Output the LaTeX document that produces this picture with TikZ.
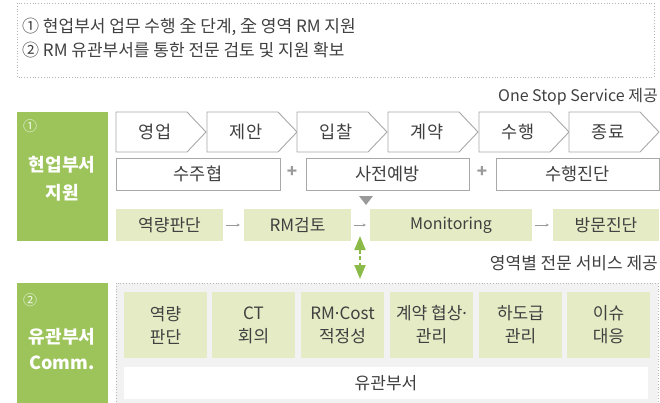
\documentclass[tikz,border=0pt]{standalone}
\usepackage{fontspec}
\setmainfont{Noto Sans CJK KR}
\newfontfamily\latinf{Noto Sans}
\usetikzlibrary{arrows.meta}
\definecolor{grn}{HTML}{9CC45B}
\definecolor{lgrn}{HTML}{E5ECC5}
\definecolor{bord}{HTML}{A8A8A8}
\definecolor{txtc}{HTML}{404040}
\definecolor{bgc}{HTML}{F2F2F2}
\definecolor{dotc}{HTML}{B5B5B5}
\definecolor{plusc}{HTML}{9A9A9A}
\definecolor{garr}{HTML}{8CBA48}
\newcommand{\mdot}{{\latinf ·}}
\begin{document}
\begin{tikzpicture}[x=1pt,y=-1pt,
  lbl/.style={text=txtc, inner sep=0pt, font=\fontsize{17.5}{20}\selectfont},
  small/.style={text=txtc, inner sep=0pt, font=\fontsize{17}{20}\selectfont},
  lat/.style={text=txtc, inner sep=0pt, font=\fontsize{16}{19}\selectfont},
  chev/.style={draw=bord, fill=white, line width=0.9pt},
  wbox/.style={draw=bord, fill=white, line width=0.9pt, minimum height=32pt, inner sep=0pt},
  gbox/.style={fill=lgrn, minimum height=32pt, inner sep=0pt},
  sidebox/.style={fill=grn, inner sep=0pt},
  sidetxt/.style={text=white, inner sep=0pt, font=\fontsize{18}{21}\selectfont\bfseries},
  circnum/.style={text=white!85!grn, inner sep=0pt, font=\fontsize{14}{16}\selectfont},
  plus/.style={text=plusc, inner sep=0pt, font=\fontsize{17}{19}\selectfont\bfseries},
  smallarr/.style={draw=plusc, line width=0.6pt, -{Stealth[length=3pt,width=3pt]}, shorten <=3pt, shorten >=4pt},
  garrow/.style={draw=garr, line width=2pt, dash pattern=on 4pt off 2.5pt,
     {Triangle[length=14pt,width=11pt]}-{Triangle[length=14pt,width=11pt]}},
  inner/.style={fill=lgrn, minimum width=83pt, minimum height=66pt, inner sep=0pt, align=center,
     text=txtc, font=\fontsize{17}{23}\selectfont}
]
\useasboundingbox (0,0) rectangle (660,402);
\clip (0,0) rectangle (660,402);

% top note box
\draw[dotc, line width=0.8pt, dotted] (17,3) rectangle (654,77);
\node[lbl, anchor=west, font=\fontsize{17}{20}\selectfont] (n1) at (22,27) {① 현업부서 업무 수행 全 단계, 全 영역 RM 지원};
\node[lbl, anchor=west, font=\fontsize{17}{20}\selectfont] (n2) at (22,50) {② RM 유관부서를 통한 전문 검토 및 지원 확보};

% heading right
\node[lat, anchor=east] (oss) at (658,97) {One Stop Service 제공};

% side box 1
\node[sidebox, minimum width=91pt, minimum height=129pt] (s1) at (62.5,176.5) {};
\node[circnum] (s1n) at (30,126) {①};
\node[sidetxt] (s1a) at (62,165) {현업부서};
\node[sidetxt] (s1b) at (62,193) {지원};

% chevrons
\foreach \x/\t/\n in {116/영업/c1, 207/제안/c2, 297/입찰/c3, 388/계약/c4, 479/수행/c5, 569/종료/c6} {
  \draw[chev] (\x,112) -- ++(71,0) -- ++(19,20) -- ++(-19,20) -- ++(-71,0) -- cycle;
  \node[lbl] (\n) at (\x+39,132) {\t};
}

% row 2
\node[wbox, minimum width=164pt] (w1) at (198,174) {};
\node[lbl] at (w1) {수주협};
\node[plus] (p1) at (292,172) {+};
\node[wbox, minimum width=163pt] (w2) at (387.5,174) {};
\node[lbl] at (w2) {사전예방};
\node[plus] (p2) at (482,172) {+};
\node[wbox, minimum width=163pt] (w3) at (577.5,174) {};
\node[lbl] at (w3) {수행진단};

% marker triangle
\fill[plusc] (359,196) -- (373,196) -- (366,205) -- cycle;

% row 3
\node[gbox, minimum width=107pt] (r1) at (169.5,225) {};
\node[small] at (r1) {역량판단};
\node[gbox, minimum width=107pt] (r2) at (297.5,225) {};
\node[small] at (r2) {RM검토};
\node[gbox, minimum width=162pt] (r3) at (451,225) {};
\node[lat] at (r3) {Monitoring};
\node[gbox, minimum width=106pt] (r4) at (606,225) {};
\node[small] at (r4) {방문진단};
\draw[smallarr] (r1) -- (r2);
\draw[smallarr] (r2) -- (r3);
\draw[smallarr] (r3) -- (r4);

% green double arrow
\coordinate (da1) at (360,236);
\coordinate (da2) at (360,279);
\draw[garrow] (da1) -- (da2);

\node[small, anchor=east] (ysv) at (658,263) {영역별 전문 서비스 제공};

% side box 2
\node[sidebox, minimum width=91pt, minimum height=121pt] (s2) at (62.5,343.5) {};
\node[circnum] (s2n) at (30,300) {②};
\node[sidetxt] (s2a) at (62,337) {유관부서};
\node[sidetxt] (s2b) at (62,363) {Comm.};

% container
\draw[dotc, fill=bgc, line width=0.8pt, dotted] (116,283) rectangle (658,410);
\node[inner] (b1) at (165.5,325) {역량\\판단};
\node[inner] (b2) at (253.5,325) {CT\\회의};
\node[inner] (b3) at (342.5,325) {RM\mdot Cost\\적정성};
\node[inner] (b4) at (431.5,325) {계약 협상\mdot\\관리};
\node[inner] (b5) at (520.5,325) {하도급\\관리};
\node[inner] (b6) at (608.5,325) {이슈\\대응};
\node[fill=white, minimum width=524pt, minimum height=32pt, inner sep=0pt] (ub) at (386,383) {};
\node[small] at (ub) {유관부서};
\end{tikzpicture}
\end{document}
